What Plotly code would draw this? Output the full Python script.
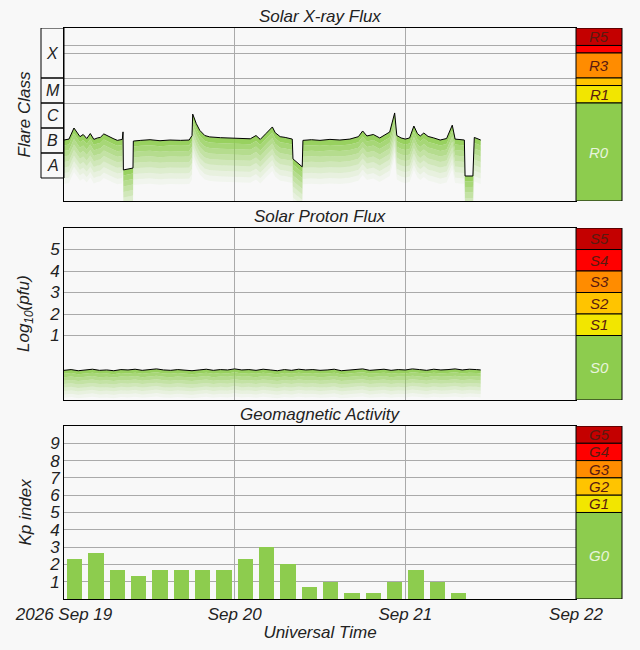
import plotly.graph_objects as go
import numpy as np

# ---- data ----
xray_hours = [0, 0.7, 1.4, 1.8, 2.25, 2.7, 3.2, 3.7, 4.2, 4.7, 5.1, 5.6, 6.2, 6.9, 7.5, 8.2, 8.3, 8.35, 9.7, 9.75,
              10.8, 12.1, 13.5, 14.9, 16.4, 17.6, 18.0, 18.1, 18.6, 19.1, 19.8, 20.5, 22.0, 23.3, 24.8, 26.2, 27.0,
              27.6, 28.4, 29.3, 29.7, 30.4, 31.1, 32.1, 32.2, 33.5, 33.6, 34.8, 36.0, 37.4, 38.8, 40.2, 41.4, 42.0,
              42.6, 43.5, 44.4, 45.2, 45.8, 46.5, 46.8, 47.4, 48.0, 48.6, 49.2, 49.7, 50.1, 50.6, 51.2, 52.0, 52.9,
              53.8, 54.6, 55.0, 55.7, 56.3, 56.4, 57.5, 57.7, 58.1, 58.6]
xray_flux = [3.3e-7, 3.6e-7, 1.0e-6, 6.5e-7, 4.5e-7, 5.5e-7, 3.8e-7, 6.0e-7, 3.5e-7, 4.0e-7, 4.2e-7, 5.8e-7, 4.6e-7,
             3.8e-7, 3.2e-7, 3.5e-7, 7.0e-7, 2.1e-8, 2.5e-8, 3.0e-7,
             3.2e-7, 3.4e-7, 3.1e-7, 3.3e-7, 3.2e-7, 3.3e-7, 5.0e-7, 3.6e-6, 1.5e-6, 8.0e-7, 5.0e-7, 4.4e-7, 4.1e-7,
             4.0e-7, 3.8e-7, 3.7e-7, 5.0e-7, 3.5e-7, 6.0e-7, 1.1e-6, 6.5e-7, 4.5e-7, 4.2e-7, 3.6e-7, 5.8e-8, 2.8e-8,
             3.2e-7, 3.4e-7, 3.2e-7, 3.5e-7, 3.3e-7, 3.6e-7, 4.5e-7, 7.6e-7, 4.8e-7, 5.5e-7, 4.0e-7, 5.5e-7, 6.9e-7,
             4.0e-6, 5.0e-7, 4.0e-7, 3.6e-7, 4.0e-7, 1.2e-6, 6.0e-7, 4.8e-7, 6.3e-7, 4.6e-7, 4.0e-7, 3.3e-7, 3.8e-7,
             1.3e-6, 3.6e-7, 3.4e-7, 3.3e-7, 1.2e-8, 1.2e-8, 4.2e-7, 3.8e-7, 3.3e-7]

proton_hours = [0, 1, 2, 3, 4, 5, 6, 7, 8, 9, 10, 11, 12, 13, 14, 15, 16, 17, 18, 19, 20, 21, 22, 23, 24, 25, 26, 27,
                28, 29, 30, 31, 32, 33, 34, 35, 36, 37, 38, 39, 40, 41, 42, 43, 44, 45, 46, 47, 48, 49, 50, 51, 52,
                53, 54, 55, 56, 57, 58, 58.6]
proton_pfu = [0.24, 0.26, 0.23, 0.25, 0.27, 0.24, 0.25, 0.23, 0.26, 0.25, 0.27, 0.24, 0.26, 0.28, 0.25, 0.24, 0.26,
              0.25, 0.23, 0.25, 0.27, 0.24, 0.26, 0.25, 0.28, 0.25, 0.26, 0.24, 0.27, 0.25, 0.23, 0.26, 0.24, 0.27,
              0.25, 0.26, 0.24, 0.25, 0.27, 0.23, 0.25, 0.26, 0.28, 0.24, 0.25, 0.27, 0.24, 0.26, 0.25, 0.28, 0.26,
              0.24, 0.27, 0.25, 0.26, 0.28, 0.25, 0.27, 0.26, 0.25]

kp_hours = [1.5 + 3 * i for i in range(19)]
kp_values = [2.33, 2.67, 1.67, 1.33, 1.67, 1.67, 1.67, 1.67, 2.33, 3.0, 2.0, 0.67, 1.0, 0.33, 0.33, 1.0, 1.67, 1.0, 0.33]

x_tickvals = [0, 24, 48, 72]
x_ticktext = ["2026 Sep 19", "Sep 20", "Sep 21", "Sep 22"]

r_bounds = [1e-2, 2e-3, 1e-3, 1e-4, 5e-5, 1e-5, 1.2e-9]
r_labels = ["R5", "", "R3", "", "R1", "R0"]
s_bounds = [6, 5, 4, 3, 2, 1, -2]
s_labels = ["S5", "S4", "S3", "S2", "S1", "S0"]
g_bounds = [10, 9, 8, 7, 6, 5, 0]
g_labels = ["G5", "G4", "G3", "G2", "G1", "G0"]
scale_colors = ["#c40000", "#ff0000", "#ff8c00", "#ffc400", "#f2e600", "#8dcc4e"]

class_bounds = [1e-2, 1e-4, 1e-5, 1e-6, 1e-7, 1e-8]
class_labels = ["X", "M", "C", "B", "A"]

# ---- figure ----
BG = "#f8f8f8"
GREEN = "#8dcc4e"
FONT = "Liberation Sans"
fig = go.Figure()

def fading(x, y, xa, ya, step, nb=8, logaxis=False):
    y = np.array(y, dtype=float)
    prev = y
    for k in range(nb):
        low = y * 10 ** (-step * (k + 1)) if logaxis else y - step * (k + 1)
        a = 0.9 * (1 - k / nb) ** 1.3
        fig.add_trace(go.Scatter(x=x, y=prev, xaxis=xa, yaxis=ya, mode="lines", line=dict(width=0),
                                 showlegend=False, hoverinfo="skip"))
        fig.add_trace(go.Scatter(x=x, y=low, xaxis=xa, yaxis=ya, mode="lines", line=dict(width=0),
                                 fill="tonexty", fillcolor=f"rgba(141,204,78,{a:.2f})",
                                 showlegend=False, hoverinfo="skip"))
        prev = low
    fig.add_trace(go.Scatter(x=x, y=y, xaxis=xa, yaxis=ya, mode="lines", line=dict(color="black", width=1),
                             showlegend=False))

fading(xray_hours, xray_flux, "x", "y", 0.22, logaxis=True)
pl = np.log10(np.array(proton_pfu))
fading(proton_hours, pl, "x2", "y2", 0.16)
fig.add_trace(go.Bar(x=kp_hours, y=kp_values, width=2.2, marker=dict(color=GREEN, line=dict(width=0)),
                     xaxis="x3", yaxis="y3", showlegend=False))

XD = (576 - 64) / 558
tickf = dict(family=FONT, size=17, color="#222", style="italic")
axis_common = dict(showline=True, linecolor="black", linewidth=1, mirror=True, gridcolor="#aaaaaa",
                   range=[0, 72], tickvals=x_tickvals, ticktext=x_ticktext, domain=[0, XD],
                   tickfont=tickf, ticks="", automargin=False)
ycommon = dict(showline=True, linecolor="black", mirror=True, gridcolor="#aaaaaa", zeroline=False,
               tickfont=tickf, automargin=False, ticks="")
fig.update_layout(
    width=640, height=650, paper_bgcolor=BG, plot_bgcolor=BG,
    margin=dict(l=64, r=18, t=28, b=51),
    bargap=0,
    xaxis=dict(axis_common, showticklabels=False, anchor="y"),
    xaxis2=dict(axis_common, showticklabels=False, anchor="y2"),
    xaxis3=dict(axis_common, anchor="y3",
                title=dict(text="<i>Universal Time</i>", font=dict(family=FONT, size=17, color="#222"), standoff=2)),
    yaxis=dict(ycommon, type="log", range=[np.log10(1.2e-9), -2], domain=[0.697, 1], showticklabels=False,
               tickvals=r_bounds[1:6]),
    yaxis2=dict(ycommon, range=[-2, 6], domain=[0.3485, 0.6497], tickvals=[1, 2, 3, 4, 5]),
    yaxis3=dict(ycommon, range=[0, 10], domain=[0, 0.303], tickvals=list(range(1, 10))),
)

def scale(bounds, labels, yref):
    for i in range(6):
        fig.add_shape(type="rect", xref="paper", yref=yref, x0=XD, x1=1, y0=bounds[i + 1], y1=bounds[i],
                      fillcolor=scale_colors[i], line=dict(color="black", width=1), layer="above")
        if labels[i]:
            if yref == "y":
                ym = (np.log10(bounds[i]) + np.log10(bounds[i + 1])) / 2
            else:
                ym = (bounds[i] + bounds[i + 1]) / 2
            fig.add_annotation(x=(XD + 1) / 2, xref="paper", xanchor="center", y=ym, yref=yref,
                               text=f"<i>{labels[i]}</i>", showarrow=False,
                               font=dict(family=FONT, size=15, color="#e8f4dc" if i == 5 else "#5a1a10"))

scale(r_bounds, r_labels, "y")
scale(s_bounds, s_labels, "y2")
scale(g_bounds, g_labels, "y3")

bx0 = -23 / 558
for i in range(5):
    fig.add_shape(type="rect", xref="paper", yref="y", x0=bx0, x1=0, y0=class_bounds[i + 1], y1=class_bounds[i],
                  line=dict(color="black", width=1), fillcolor="rgba(0,0,0,0)")
    ym = (np.log10(class_bounds[i]) + np.log10(class_bounds[i + 1])) / 2
    fig.add_annotation(x=bx0 / 2, xref="paper", xanchor="center", y=ym, yref="y",
                       text=f"<i>{class_labels[i]}</i>",
                       showarrow=False, font=dict(family=FONT, size=16, color="#222"))

tf = dict(family=FONT, size=17, color="#222")
xc = XD / 2
for txt, yp in [("Solar X-ray Flux", 1.0), ("Solar Proton Flux", 0.6497), ("Geomagnetic Activity", 0.303)]:
    fig.add_annotation(x=xc, xref="paper", xanchor="center", y=yp, yref="paper", yanchor="bottom",
                       text=f"<i>{txt}</i>", showarrow=False, font=tf)
for txt, yp in [("Flare Class", (0.697 + 1) / 2), ("Log<sub>10</sub>(pfu)", (0.3485 + 0.6497) / 2),
                ("Kp index", 0.303 / 2)]:
    fig.add_annotation(x=-39 / 558, xref="paper", xanchor="center", y=yp, yref="paper", yanchor="middle",
                       text=f"<i>{txt}</i>", textangle=-90, showarrow=False, font=tf)

fig.write_html("out.html", config={"displayModeBar": False},
               post_script="document.body.style.margin='0';document.body.style.background='#f8f8f8';")
